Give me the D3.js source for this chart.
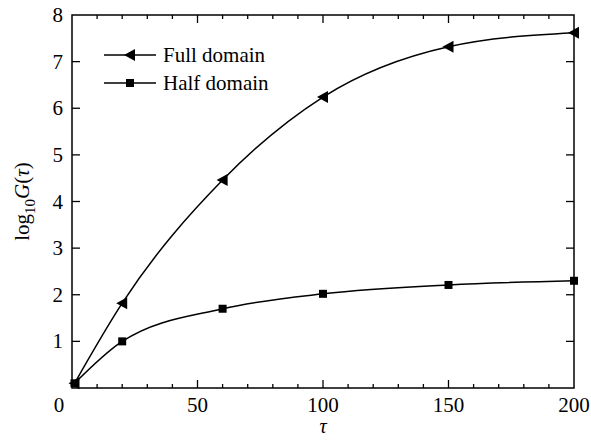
<!DOCTYPE html>
<html>
<head>
<meta charset="utf-8">
<script src="https://cdn.jsdelivr.net/npm/d3@7"></script>
<style>
  body { margin: 0; background: #fff; }
</style>
</head>
<body>
<svg id="chart" width="591" height="440"></svg>
<script>
// data
const tau = [1, 20, 60, 100, 150, 200];
const fullDomain = [0.1, 1.82, 4.46, 6.24, 7.32, 7.62];
const halfDomain = [0.1, 1.0, 1.70, 2.02, 2.21, 2.30];
const xTicks = [0, 50, 100, 150, 200];
const yTicks = [1, 2, 3, 4, 5, 6, 7, 8];

const svg = d3.select("#chart")
    .style("font-family", "'Liberation Serif', 'Times New Roman', 'DejaVu Serif', serif");
const pLeft = 72, pRight = 574, pTop = 15, pBottom = 388;

const x = d3.scaleLinear().domain([0, 200]).range([pLeft, pRight]);
const y = d3.scaleLinear().domain([0, 8]).range([pBottom, pTop]);

// frame
svg.append("rect")
    .attr("x", pLeft).attr("y", pTop)
    .attr("width", pRight - pLeft).attr("height", pBottom - pTop)
    .attr("fill", "none").attr("stroke", "#000").attr("stroke-width", 1.5);

// x ticks (major + minor), pointing inward on bottom and top
const xMinor = d3.range(10, 200, 10);
const g = svg.append("g").attr("stroke", "#000").attr("stroke-width", 1.3);
xMinor.forEach(function (v) {
  let len = (v % 50 === 0) ? 8 : 4;
  g.append("line").attr("x1", x(v)).attr("x2", x(v)).attr("y1", pBottom).attr("y2", pBottom - len);
  g.append("line").attr("x1", x(v)).attr("x2", x(v)).attr("y1", pTop).attr("y2", pTop + len);
});
yTicks.slice(0, -1).forEach(function (v) {
  g.append("line").attr("x1", pLeft).attr("x2", pLeft + 8).attr("y1", y(v)).attr("y2", y(v));
  g.append("line").attr("x1", pRight).attr("x2", pRight - 8).attr("y1", y(v)).attr("y2", y(v));
});

// tick labels
svg.append("g").selectAll("text")
    .data(xTicks)
    .enter().append("text")
    .attr("x", function (d) { return d === 0 ? x(d) - 13 : x(d); })
    .attr("y", 412)
    .attr("text-anchor", "middle")
    .style("font-size", "21px")
    .text(function (d) { return d; });

svg.append("g").selectAll("text")
    .data(yTicks)
    .enter().append("text")
    .attr("x", 63)
    .attr("y", function (d) { return y(d) + 7; })
    .attr("text-anchor", "end")
    .style("font-size", "21px")
    .text(function (d) { return d; });

// axis titles
svg.append("text")
    .attr("x", x(100)).attr("y", 433)
    .attr("text-anchor", "middle")
    .style("font-size", "20px").style("font-style", "italic")
    .text("τ");

const yt = svg.append("text")
    .attr("transform", "translate(29," + ((pTop + pBottom) / 2) + ") rotate(-90)")
    .attr("text-anchor", "middle")
    .style("font-size", "21px");
yt.append("tspan").text("log");
yt.append("tspan").attr("dy", 6).style("font-size", "15px").text("10");
yt.append("tspan").attr("dy", -6).style("font-style", "italic").text("G");
yt.append("tspan").text("(");
yt.append("tspan").style("font-style", "italic").text("τ");
yt.append("tspan").text(")");

// curves
const line = d3.line()
    .x(function (d) { return x(d[0]); })
    .y(function (d) { return y(d[1]); })
    .curve(d3.curveMonotoneX);

const series = [
  { name: "Full domain", values: fullDomain, marker: "tri" },
  { name: "Half domain", values: halfDomain, marker: "sq" }
];

function drawMarker(sel, type, cx, cy) {
  if (type === "tri") {
    sel.append("path")
        .attr("d", "M" + (cx - 6) + "," + cy + "L" + (cx + 5) + "," + (cy - 6) + "L" + (cx + 5) + "," + (cy + 6) + "Z")
        .attr("fill", "#000");
  } else {
    sel.append("rect")
        .attr("x", cx - 4).attr("y", cy - 4)
        .attr("width", 8).attr("height", 8)
        .attr("fill", "#000");
  }
}

series.forEach(function (s) {
  let pts = tau.map(function (t, i) { return [t, s.values[i]]; });
  svg.append("path")
      .attr("d", line(pts))
      .attr("fill", "none")
      .attr("stroke", "#000")
      .attr("stroke-width", 1.5);
  let mg = svg.append("g");
  pts.forEach(function (p) { drawMarker(mg, s.marker, x(p[0]), y(p[1])); });
});

// legend
series.forEach(function (s, i) {
  let ly = 55 + i * 28;
  let lg = svg.append("g");
  lg.append("line").attr("x1", 104).attr("x2", 156).attr("y1", ly).attr("y2", ly)
      .attr("stroke", "#000").attr("stroke-width", 1.5);
  drawMarker(lg, s.marker, 130, ly);
  lg.append("text").attr("x", 163).attr("y", ly + 7)
      .style("font-size", "21px")
      .text(s.name);
});
</script>
</body>
</html>
